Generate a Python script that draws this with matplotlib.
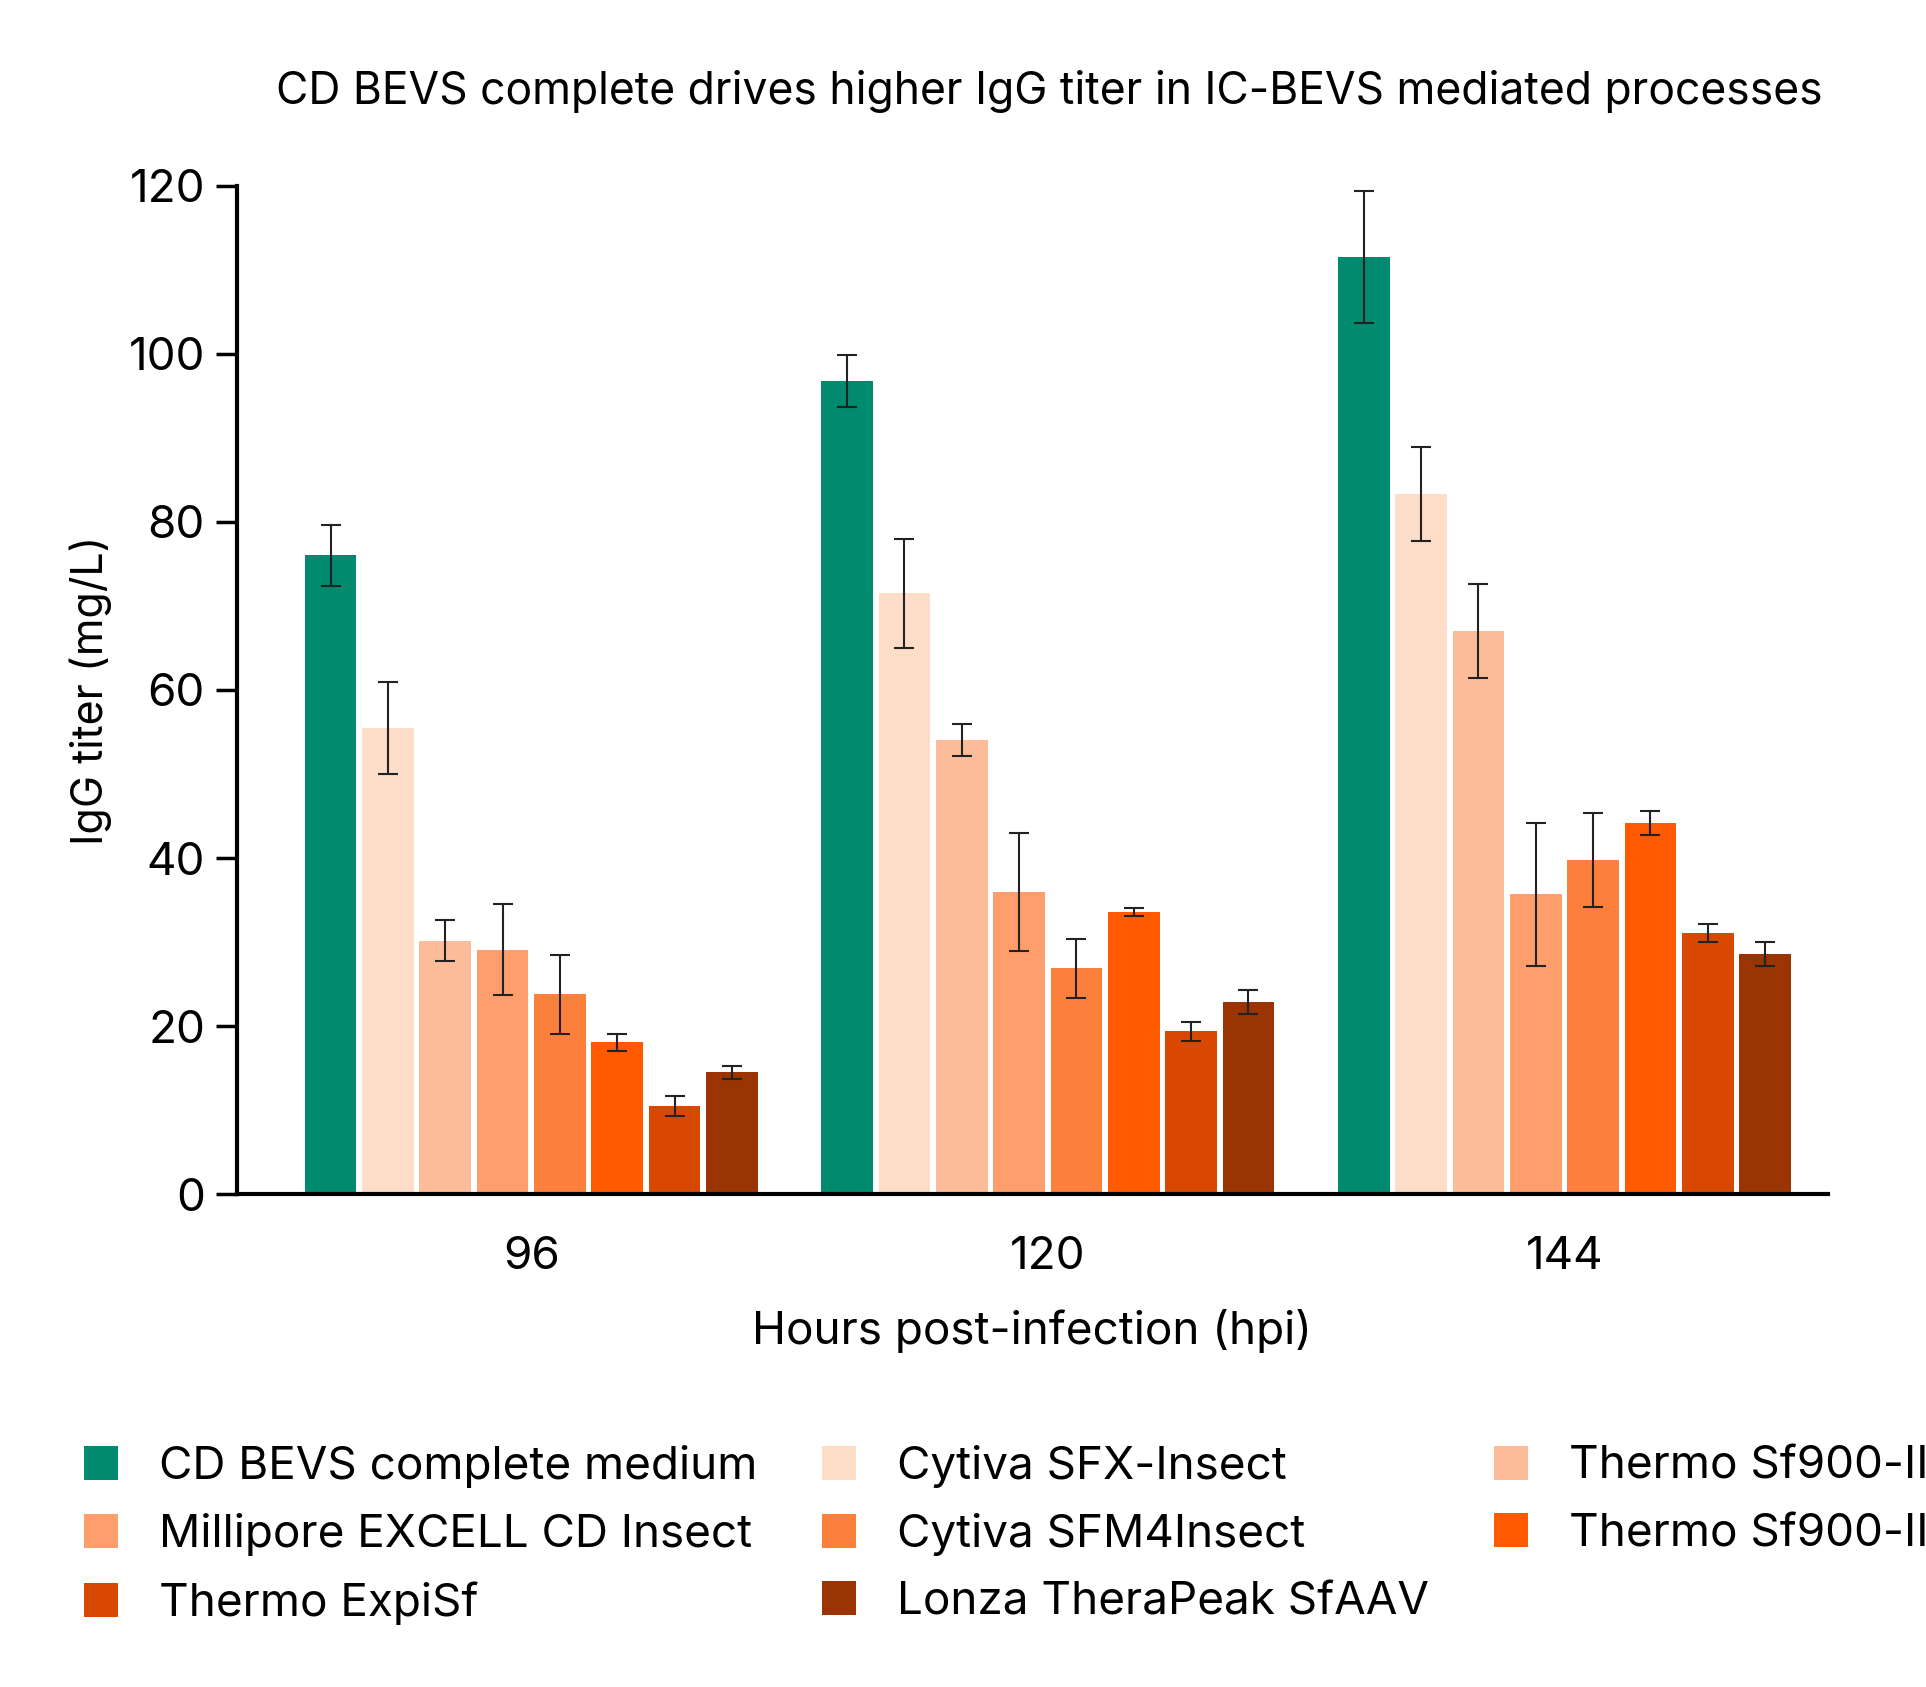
import matplotlib
matplotlib.use("Agg")
import matplotlib.pyplot as plt
import numpy as np

plt.rcParams['font.family'] = ['Inter', 'DejaVu Sans']

groups = ["96", "120", "144"]
series = ["CD BEVS complete medium", "Cytiva SFX-Insect", "Thermo Sf900-II",
          "Millipore EXCELL CD Insect", "Cytiva SFM4Insect", "Thermo Sf900-III",
          "Thermo ExpiSf", "Lonza TheraPeak SfAAV"]
colors = ["#008a6e", "#fddcc8", "#fdbc99", "#fd9e6c", "#fd7f3c", "#ff5a00", "#d94801", "#9a3403"]
values = [
    [76.0, 96.8, 111.5],
    [55.5, 71.5, 83.3],
    [30.2, 54.0, 67.0],
    [29.1, 36.0, 35.7],
    [23.8, 26.9, 39.8],
    [18.1, 33.6, 44.2],
    [10.5, 19.4, 31.1],
    [14.5, 22.9, 28.6],
]
errors = [
    [3.6, 3.1, 7.8],
    [5.5, 6.5, 5.6],
    [2.4, 1.9, 5.6],
    [5.4, 7.0, 8.5],
    [4.7, 3.5, 5.6],
    [1.0, 0.5, 1.4],
    [1.2, 1.1, 1.1],
    [0.8, 1.4, 1.4],
]

fig = plt.figure(figsize=(19.26, 16.87), dpi=100)
ax = fig.add_axes([0.123, 0.292, 0.826, 0.598])
x = np.arange(len(groups))
step = 0.111
width = 0.10
handles = []
for i, (name, c) in enumerate(zip(series, colors)):
    pos = x + (i - 3.5) * step
    h = ax.bar(pos, values[i], width, color=c, label=name, zorder=2)
    ax.errorbar(pos, values[i], yerr=errors[i], fmt='none', ecolor='#222222',
                elinewidth=1.5, capsize=7, capthick=1.5, zorder=3)
    handles.append(h)

ax.set_ylim(0, 120)
ax.set_xlim(-0.57, 2.51)
ax.set_yticks(range(0, 121, 20))
ax.set_xticks(x)
ax.set_xticklabels(groups)
ax.tick_params(axis='y', labelsize=33, length=15, width=2.5, pad=8)
ax.tick_params(axis='x', labelsize=33, length=0, pad=30)
for s in ['top', 'right']:
    ax.spines[s].set_visible(False)
for s in ['left', 'bottom']:
    ax.spines[s].set_linewidth(3)
ax.set_ylabel("IgG titer (mg/L)", fontsize=31, labelpad=12)
ax.set_xlabel("Hours post-infection (hpi)", fontsize=33, labelpad=22)
fig.text(0.545, 0.946, "CD BEVS complete drives higher IgG titer in IC-BEVS mediated processes",
         ha='center', va='center', fontsize=32)

order = [0, 3, 6, 1, 4, 7, 2, 5]
fig.legend([handles[k] for k in order], [series[k] for k in order],
           loc='upper left', bbox_to_anchor=(0.022, 0.168), ncol=3, frameon=False,
           fontsize=33, handlelength=0.75, handleheight=0.75, handletextpad=0.9,
           columnspacing=1.4, labelspacing=0.55)

fig.savefig("out.png", dpi=100)
